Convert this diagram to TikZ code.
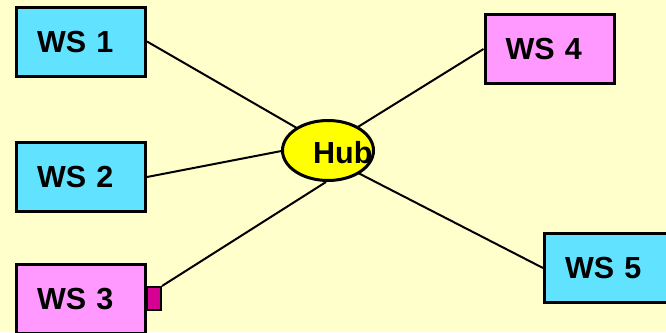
\documentclass[tikz,border=0pt]{standalone}
\usepackage{fontspec}
\setmainfont{Liberation Sans}
\usetikzlibrary{shapes.geometric,backgrounds}

\definecolor{paper}{RGB}{255,255,204}
\definecolor{wscyan}{RGB}{97,227,255}
\definecolor{wspink}{RGB}{255,153,255}
\definecolor{hubyellow}{RGB}{255,255,0}
\definecolor{portmag}{RGB}{214,0,147}

\tikzset{
  station/.style={rectangle, draw=black, line width=3pt,
    minimum width=129pt, minimum height=69pt,
    text width=88pt, inner xsep=20.5pt, inner ysep=0pt, align=left,
    font=\fontsize{30.5}{30.5}\selectfont\bfseries},
  cyanbox/.style={station, fill=wscyan},
  pinkbox/.style={station, fill=wspink},
  hubshape/.style={ellipse, draw=black, line width=3pt, fill=hubyellow,
    minimum width=91pt, minimum height=60pt, inner sep=0pt},
  hubtext/.style={inner sep=0pt, font=\fontsize{30.5}{30.5}\selectfont\bfseries},
  port/.style={rectangle, draw=black, line width=2pt, fill=portmag,
    minimum width=14pt, minimum height=23pt, inner sep=0pt},
  link/.style={draw=black, line width=2pt}
}

\begin{document}
\begin{tikzpicture}[x=1pt, y=-1pt]
  \useasboundingbox (0,0) rectangle (666,332);
  \clip (0,0) rectangle (666,332);

  % workstations
  \node[cyanbox] (ws1) at (81,41.5) {WS 1};
  \node[cyanbox] (ws2) at (81,177) {WS 2};
  \node[pinkbox] (ws3) at (81,299) {WS 3};
  \node[pinkbox] (ws4) at (549.5,49) {WS 4};
  \node[cyanbox] (ws5) at (609,268) {WS 5};
  \node[port] (ws3port) at (154,298.5) {};

  % hub
  \node[hubshape] (hub) at (328,150.5) {};
  \node[hubtext, anchor=base west] (hublabel) at (313,163) {Hub};

  % paper and cabling, drawn beneath the nodes
  \begin{pgfonlayer}{background}
    \fill[paper] (0,0) rectangle (666,332);
    \draw[link] (ws1.east) -- ([yshift=4.5pt]hub.center);
    \draw[link] (ws2.east) -- ([yshift=8.5pt]hub.center);
    \draw[link] (ws3port.north east) -- ([xshift=-2pt]hub.south);
    \draw[link] (ws4.west) -- ([yshift=5pt]hub.center);
    \draw[link] (ws5.west) -- ([yshift=-7pt]hub.center);
  \end{pgfonlayer}
\end{tikzpicture}
\end{document}
